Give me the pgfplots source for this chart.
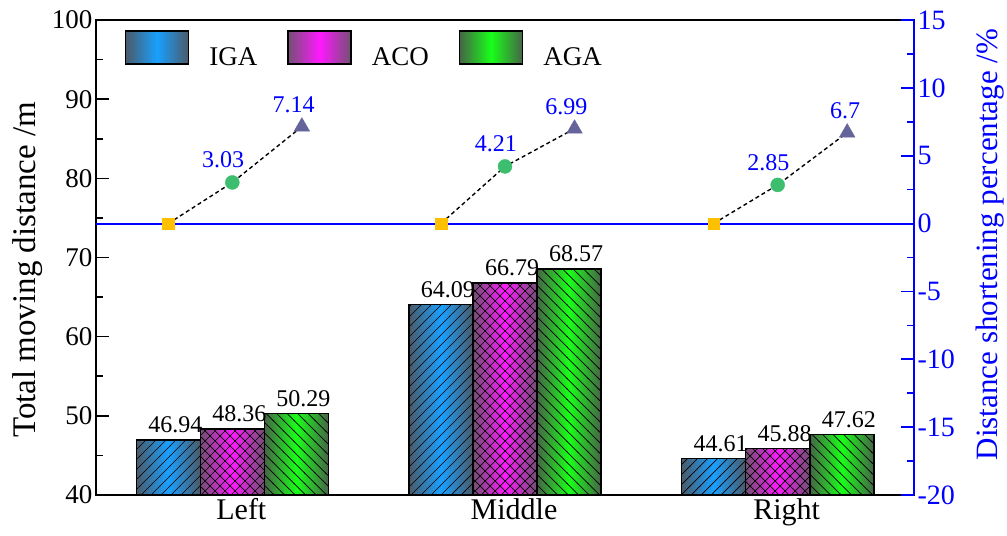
\documentclass[border=0pt]{standalone}
\usepackage{fontspec}
\setmainfont{Liberation Serif}
\usepackage{pgfplots}
\pgfplotsset{compat=1.18}
\usetikzlibrary{patterns}

\definecolor{igaC}{RGB}{25,160,255}
\definecolor{acoC}{RGB}{255,25,255}
\definecolor{agaC}{RGB}{25,255,25}
\definecolor{edgeB}{RGB}{75,90,105}
\definecolor{edgeM}{RGB}{115,80,115}
\definecolor{edgeG}{RGB}{70,100,70}
\definecolor{sqC}{RGB}{255,192,0}
\definecolor{ciC}{RGB}{60,190,110}
\definecolor{trC}{RGB}{100,100,155}
\definecolor{zeroB}{RGB}{0,0,255}

\pgfdeclarepatternformonly{igalines}{\pgfqpoint{-1pt}{-1pt}}{\pgfqpoint{11pt}{11pt}}{\pgfqpoint{10pt}{10pt}}{%
  \pgfsetlinewidth{0.7pt}%
  \pgfpathmoveto{\pgfqpoint{-0.5pt}{-0.5pt}}%
  \pgfpathlineto{\pgfqpoint{10.5pt}{10.5pt}}%
  \pgfusepath{stroke}}
\pgfdeclarepatternformonly{acohatch}{\pgfqpoint{-1pt}{-1pt}}{\pgfqpoint{11pt}{11pt}}{\pgfqpoint{10pt}{10pt}}{%
  \pgfsetlinewidth{0.7pt}%
  \pgfpathmoveto{\pgfqpoint{-0.5pt}{-0.5pt}}%
  \pgfpathlineto{\pgfqpoint{10.5pt}{10.5pt}}%
  \pgfpathmoveto{\pgfqpoint{-0.5pt}{10.5pt}}%
  \pgfpathlineto{\pgfqpoint{10.5pt}{-0.5pt}}%
  \pgfusepath{stroke}}
\pgfdeclarepatternformonly{agalines}{\pgfqpoint{-1pt}{-1pt}}{\pgfqpoint{11.5pt}{11.5pt}}{\pgfqpoint{10.5pt}{10.5pt}}{%
  \pgfsetlinewidth{0.7pt}%
  \pgfpathmoveto{\pgfqpoint{-0.5pt}{11pt}}%
  \pgfpathlineto{\pgfqpoint{11pt}{-0.5pt}}%
  \pgfusepath{stroke}}

\pgfplotsset{
  igaBar/.style={draw=black, line width=1.5pt, left color=edgeB, right color=edgeB, middle color=igaC,
    legend image code/.code={\draw[##1] (0pt,-7pt) rectangle (63pt,26pt);
      \begin{scope}\clip (0pt,-7pt) rectangle (63pt,26pt);
      \foreach \k in {-40,-30,...,70} {\draw[black, line width=0.7pt, solid] (\k pt,-7pt) -- ++(33pt,33pt);}
      \end{scope}
      \draw[black, line width=1.5pt] (0pt,-7pt) rectangle (63pt,26pt);}},
  acoBar/.style={draw=black, line width=1.5pt, left color=edgeM, right color=edgeM, middle color=acoC,
    legend image code/.code={\draw[##1] (0pt,-7pt) rectangle (63pt,26pt);
      \begin{scope}\clip (0pt,-7pt) rectangle (63pt,26pt);
      \foreach \k in {-40,-30,...,70} {\draw[black, line width=0.7pt, solid] (\k pt,-7pt) -- ++(33pt,33pt);
        \draw[black, line width=0.7pt, solid] (\k pt,26pt) -- ++(33pt,-33pt);}
      \end{scope}
      \draw[black, line width=1.5pt] (0pt,-7pt) rectangle (63pt,26pt);}},
  agaBar/.style={draw=black, line width=1.5pt, left color=edgeG, right color=edgeG, middle color=agaC,
    legend image code/.code={\draw[##1] (0pt,-7pt) rectangle (63pt,26pt);
      \begin{scope}\clip (0pt,-7pt) rectangle (63pt,26pt);
      \foreach \k in {-40,-29.5,...,70} {\draw[black, line width=0.7pt, solid] (\k pt,26pt) -- ++(33pt,-33pt);}
      \end{scope}
      \draw[black, line width=1.5pt] (0pt,-7pt) rectangle (63pt,26pt);}},
  hatchOver/.style={forget plot, draw=none, fill=none, pattern=#1, pattern color=black},
}

\begin{document}
\begin{tikzpicture}
\begin{axis}[
  name=main,
  scale only axis, width=818pt, height=475pt,
  xmin=-0.5, xmax=2.5, ymin=40, ymax=100,
  ybar, bar width=64pt, bar shift=0pt,
  xtick={0.033,1.033,2.033}, xticklabels={Left,Middle,Right},
  x tick label style={font=\fontsize{30}{36}\selectfont},
  xtick style={draw=none},
  ytick={40,50,...,100}, minor ytick={45,55,...,95},
  ytick pos=left,
  tick align=inside,
  major tick length=13pt, minor tick length=7pt,
  y tick label style={font=\fontsize{27}{32}\selectfont},
  /pgf/number format/assume math mode=true,
  axis line style={line width=1.6pt},
  every tick/.style={line width=1.6pt, black},
  every axis y label/.style={at={(axis description cs:-0.083,0.474)}, rotate=90, anchor=center, font=\fontsize{33}{40}\selectfont},
  ylabel={Total moving distance /m},
  every node near coord/.append style={font=\fontsize{24}{28}\selectfont, anchor=south, inner sep=0pt, yshift=6pt, xshift=7pt, text=black},
  legend style={at={(axis description cs:0.035,0.979)}, anchor=north west, draw=none, fill=none, inner sep=0pt,
    font=\fontsize{27}{32}\selectfont, nodes={inner sep=0pt},
    /tikz/every odd column/.append style={column sep=20pt},
    /tikz/every even column/.append style={column sep=30pt}},
  legend columns=3,
  legend cell align=left,
]
\addplot[igaBar, nodes near coords] coordinates {(-0.235,46.94)};
\addlegendentry{IGA}
\addplot[hatchOver=igalines] coordinates {(-0.235,46.94)};
\addplot[igaBar, forget plot, nodes near coords] coordinates {(0.765,64.09)};
\addplot[hatchOver=igalines] coordinates {(0.765,64.09)};
\addplot[igaBar, forget plot, nodes near coords] coordinates {(1.765,44.61)};
\addplot[hatchOver=igalines] coordinates {(1.765,44.61)};
\addplot[acoBar, nodes near coords] coordinates {(0,48.36)};
\addlegendentry{ACO}
\addplot[hatchOver=acohatch] coordinates {(0,48.36)};
\addplot[acoBar, forget plot, nodes near coords] coordinates {(1,66.79)};
\addplot[hatchOver=acohatch] coordinates {(1,66.79)};
\addplot[acoBar, forget plot, nodes near coords] coordinates {(2,45.88)};
\addplot[hatchOver=acohatch] coordinates {(2,45.88)};
\addplot[agaBar, nodes near coords] coordinates {(0.235,50.29)};
\addlegendentry{AGA}
\addplot[hatchOver=agalines] coordinates {(0.235,50.29)};
\addplot[agaBar, forget plot, nodes near coords] coordinates {(1.235,68.57)};
\addplot[hatchOver=agalines] coordinates {(1.235,68.57)};
\addplot[agaBar, forget plot, nodes near coords] coordinates {(2.235,47.62)};
\addplot[hatchOver=agalines] coordinates {(2.235,47.62)};
\end{axis}

\begin{axis}[
  scale only axis, width=818pt, height=475pt,
  xmin=-0.5, xmax=2.5, ymin=-20, ymax=15,
  axis x line*=bottom, x axis line style={draw=none}, xtick=\empty,
  axis y line*=right,
  ytick={-20,-15,...,15}, yticklabels={-20,-15,-10,-5,0,5,10,15},
  minor ytick={-17.5,-12.5,...,12.5},
  tick align=inside, major tick length=13pt, minor tick length=7pt,
  y axis line style={zeroB, line width=1.6pt},
  every tick/.style={zeroB, line width=1.6pt},
  y tick label style={font=\fontsize{28}{33}\selectfont, text=zeroB},
  /pgf/number format/assume math mode=true,
]
\addplot[draw=zeroB, line width=2pt] coordinates {(-0.5,0) (2.5,0)};
\addplot[draw=black, line width=1.4pt, dash pattern=on 4pt off 3pt] coordinates {(-0.235,0) (0,3.03) (0.255,7.14)};
\addplot[draw=black, line width=1.4pt, dash pattern=on 4pt off 3pt] coordinates {(0.765,0) (1,4.21) (1.255,6.99)};
\addplot[draw=black, line width=1.4pt, dash pattern=on 4pt off 3pt] coordinates {(1.765,0) (2,2.85) (2.255,6.7)};
\addplot[only marks, mark=square*, mark size=5.8pt, mark options={fill=sqC, draw=sqC, line width=0.4pt, solid}]
  coordinates {(-0.235,0) (0.765,0) (1.765,0)};
\addplot[only marks, mark=*, mark size=7pt, mark options={fill=ciC, draw=ciC, line width=0.4pt, solid},
  nodes near coords,
  every node near coord/.append style={font=\fontsize{24}{28}\selectfont, text=zeroB, anchor=south east, inner sep=0pt, xshift=12pt, yshift=14pt}]
  coordinates {(0,3.03) (1,4.21) (2,2.85)};
\addplot[only marks, mark=triangle*, mark size=9pt, mark options={fill=trC, draw=trC, line width=0.4pt, solid},
  nodes near coords,
  every node near coord/.append style={font=\fontsize{24}{28}\selectfont, text=zeroB, anchor=south east, inner sep=0pt, xshift=13pt, yshift=14pt}]
  coordinates {(0.255,7.14) (1.255,6.99) (2.255,6.7)};
\end{axis}
\node[rotate=90, anchor=center, inner sep=0pt, font=\fontsize{31}{37}\selectfont, text=zeroB] at ([xshift=76pt,yshift=13pt]main.east) {Distance shortening percentage /\%};
\pgfresetboundingbox
\path ([xshift=-96pt,yshift=-41pt]main.south west) rectangle ([xshift=93pt,yshift=20pt]main.north east);
\end{tikzpicture}
\end{document}
